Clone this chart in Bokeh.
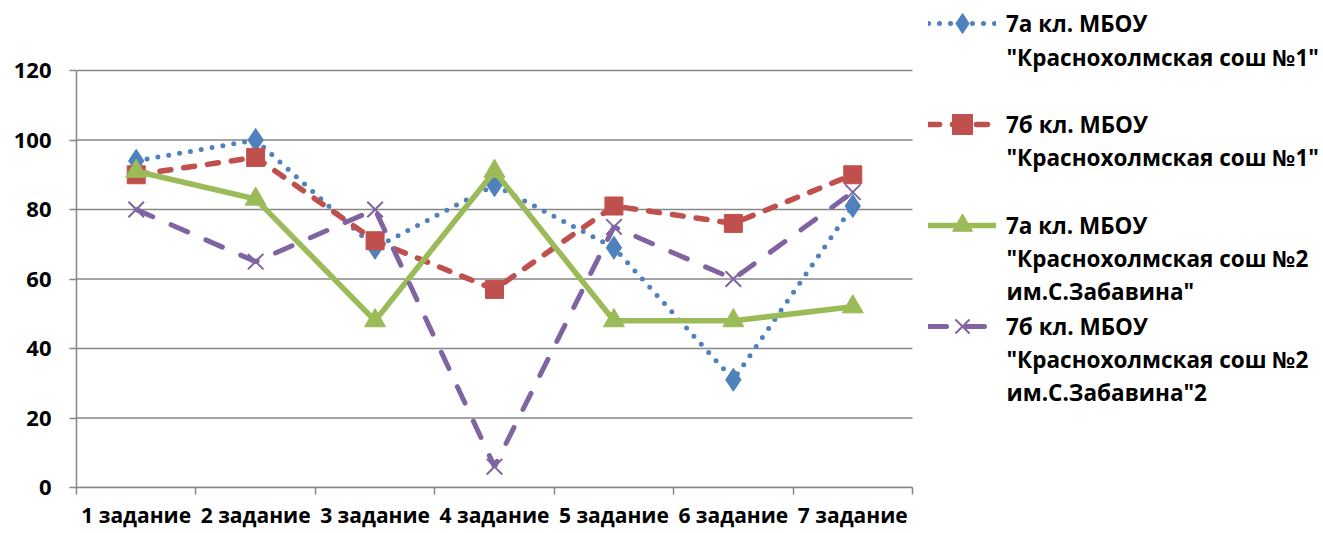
from bokeh.plotting import figure
from bokeh.models import Range1d, FixedTicker, Legend, LegendItem, Label
from bokeh.embed import file_html
from bokeh.resources import INLINE

categories = ["1 задание", "2 задание", "3 задание", "4 задание", "5 задание", "6 задание", "7 задание"]
y_ticks = [0, 20, 40, 60, 80, 100, 120]

name_1 = '7а кл. МБОУ\n"Краснохолмская сош №1"'
name_2 = '7б кл. МБОУ\n"Краснохолмская сош №1"'
name_3 = '7а кл. МБОУ\n"Краснохолмская сош №2\nим.С.Забавина"'
name_4 = '7б кл. МБОУ\n"Краснохолмская сош №2\nим.С.Забавина"2'

values_1 = [94, 100, 69, 87, 69, 31, 81]
values_2 = [90, 95, 71, 57, 81, 76, 90]
values_3 = [91, 83, 48, 91, 48, 48, 52]
values_4 = [80, 65, 80, 6, 75, 60, 85]

FONT = "Open Sans"
GRID = "#868686"
LEGEND_FONT_SIZE = "22.5px"

# ---- layout (pixels) ----
W, H = 1323, 533
LEFT, BOTTOM = 76, 46           # side panels
PLOT_RIGHT, PLOT_TOP = 912, 70  # where the category / value extents end
FRAME_W = W - LEFT
FRAME_H = H - BOTTOM
LINE_H = 32.7                   # legend text line pitch
LEGEND_X = 928                  # left edge of legend glyphs
GLYPH_W = 68
GLYPH_H = 50
STANDOFF = 10
LEGEND_TOP_LINE = 24            # centre of the first legend line
ITEM_PITCH = 100.7

n = len(categories)
y_max = y_ticks[-1]
x_end = n * FRAME_W / (PLOT_RIGHT - LEFT)
y_end = y_max * FRAME_H / (FRAME_H - PLOT_TOP)

xs = [i + 0.5 for i in range(n)]

p = figure(width=W, height=H, output_backend="svg", toolbar_location=None,
           x_range=Range1d(0, x_end), y_range=Range1d(0, y_end),
           min_border_left=LEFT, min_border_right=0, min_border_top=0, min_border_bottom=BOTTOM)
p.outline_line_color = None
p.background_fill_color = "white"
p.border_fill_color = "white"
p.xgrid.grid_line_color = None
p.ygrid.grid_line_color = None

# value grid lines, limited to the category extent
p.segment(x0=[0] * len(y_ticks), x1=[n] * len(y_ticks), y0=y_ticks, y1=y_ticks,
          line_color=GRID, line_width=1.5)

p.yaxis.bounds = (0, y_max)
p.yaxis.ticker = FixedTicker(ticks=y_ticks)
p.yaxis.axis_line_color = GRID
p.yaxis.axis_line_width = 1.5
p.yaxis.major_tick_line_color = GRID
p.yaxis.major_tick_line_width = 1.5
p.yaxis.major_tick_in = 0
p.yaxis.major_tick_out = 7
p.yaxis.minor_tick_line_color = None
p.yaxis.major_label_standoff = 18
p.yaxis.major_label_text_font = FONT
p.yaxis.major_label_text_font_style = "bold"
p.yaxis.major_label_text_font_size = "22px"
p.yaxis.major_label_text_color = "black"

p.xaxis.bounds = (0, n)
p.xaxis.ticker = FixedTicker(ticks=xs, minor_ticks=list(range(n + 1)))
p.xaxis.major_label_overrides = {x: c for x, c in zip(xs, categories)}
p.xaxis.axis_line_color = GRID
p.xaxis.axis_line_width = 1.5
p.xaxis.major_tick_line_color = None
p.xaxis.minor_tick_line_color = GRID
p.xaxis.minor_tick_line_width = 1.5
p.xaxis.minor_tick_in = 0
p.xaxis.minor_tick_out = 7
p.xaxis.major_tick_out = 7
p.xaxis.major_label_standoff = 6
p.xaxis.major_label_text_font = FONT
p.xaxis.major_label_text_font_style = "bold"
p.xaxis.major_label_text_font_size = "21px"
p.xaxis.major_label_text_color = "black"

series = [
    (name_1, values_1, "#4F81BD", "0 11", 5, "diamond", 23),
    (name_2, values_2, "#C0504D", "11 13", 5.5, "square", 18),
    (name_3, values_3, "#9BBB59", "solid", 5.5, "triangle", 21),
    (name_4, values_4, "#8064A2", "18 20", 5, "x", 22),
]

items = []
for k, (name, vals, color, dash, lw, marker, size) in enumerate(series):
    r1 = p.line(xs, vals, line_color=color, line_width=lw, line_dash=dash, line_cap="round")
    if marker == "x":
        r2 = p.scatter(xs, vals, marker=marker, size=size, line_color=color, line_width=2)
    else:
        r2 = p.scatter(xs, vals, marker=marker, size=size, fill_color=color, line_color=color)
    lines = name.split("\n")
    items.append(LegendItem(label=lines[0], renderers=[r1, r2]))
    # continuation lines of the legend entry, one label per line
    first_centre = LEGEND_TOP_LINE + k * ITEM_PITCH
    for j, txt in enumerate(lines[1:], start=1):
        p.add_layout(Label(x=LEGEND_X - LEFT + GLYPH_W + STANDOFF,
                           y=FRAME_H - (first_centre + j * LINE_H),
                           x_units="screen", y_units="screen", text=txt, text_baseline="middle",
                           text_font=FONT, text_font_style="bold", text_font_size=LEGEND_FONT_SIZE,
                           text_color="black"))

legend_h = len(series) * GLYPH_H + (len(series) - 1) * (ITEM_PITCH - GLYPH_H)
legend_top = LEGEND_TOP_LINE - GLYPH_H / 2
legend = Legend(items=items, location=(LEGEND_X - LEFT, FRAME_H - (legend_top + legend_h)))
legend.border_line_color = None
legend.background_fill_alpha = 0
legend.padding = 0
legend.margin = 0
legend.spacing = int(round(ITEM_PITCH - GLYPH_H))
legend.glyph_width = GLYPH_W
legend.glyph_height = GLYPH_H
legend.label_height = GLYPH_H
legend.label_standoff = STANDOFF
legend.label_text_font = FONT
legend.label_text_font_style = "bold"
legend.label_text_font_size = LEGEND_FONT_SIZE
legend.label_text_color = "black"
p.add_layout(legend)

open("out.html", "w").write(file_html(p, INLINE))
